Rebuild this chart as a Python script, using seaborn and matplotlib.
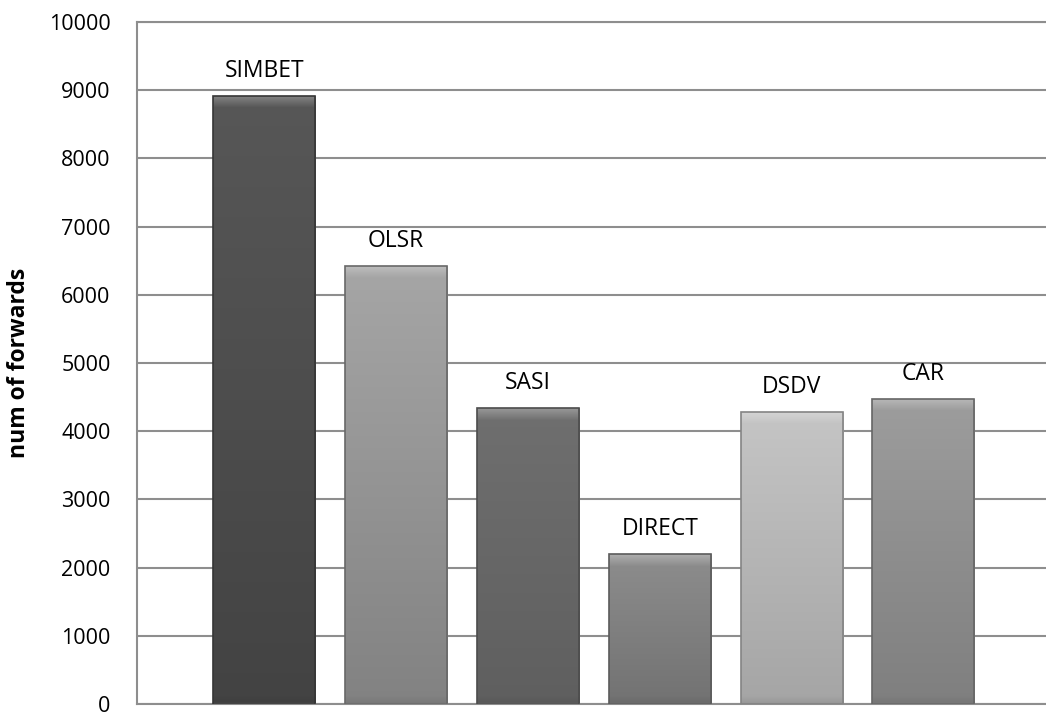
import numpy as np
import pandas as pd
import matplotlib
matplotlib.use("Agg")
import matplotlib.pyplot as plt
import seaborn as sns
from matplotlib.colors import to_rgb

# ---- data ----
protocols = ["SIMBET", "OLSR", "SASI", "DIRECT", "DSDV", "CAR"]
forwards = [8920, 6425, 4335, 2195, 4285, 4475]
y_ticks = [0, 1000, 2000, 3000, 4000, 5000, 6000, 7000, 8000, 9000, 10000]
y_label = "num of forwards"

# ---- style ----
top_colors = ["#575757", "#a6a6a6", "#6f6f6f", "#8d8d8d", "#c5c5c5", "#9d9d9d"]
bottom_colors = ["#434343", "#828282", "#5f5f5f", "#727272", "#a5a5a5", "#7f7f7f"]
grid_color = "#8e8e8e"

sns.set_theme(style="white")
plt.rcParams["font.family"] = ["Open Sans", "DejaVu Sans"]

W, H = 1046, 713
fig = plt.figure(figsize=(W / 100, H / 100), dpi=100)
ax = fig.add_axes([137 / W, 9 / H, 1 - 137 / W, (704 - 22) / H])

df = pd.DataFrame({"protocol": protocols, "forwards": forwards})
sns.barplot(data=df, x="protocol", y="forwards", hue="protocol",
            palette=top_colors, width=0.774, saturation=1, legend=False,
            ax=ax, zorder=2)

ax.set_xlim(-0.967, 5.93)
ax.set_ylim(0, 10000)

# gradient fill + bevel clipped to each seaborn bar
fig.canvas.draw()
for i, (patch, ctop, cbot) in enumerate(zip(ax.patches, top_colors, bottom_colors)):
    x0, y0 = patch.get_x(), patch.get_y()
    w, h = patch.get_width(), patch.get_height()
    p0 = ax.transData.transform((x0, y0))
    p1 = ax.transData.transform((x0 + w, y0 + h))
    npx = max(int(round(p1[1] - p0[1])), 2)
    t = np.linspace(0, 1, npx)[:, None]  # 0 bottom, 1 top
    top = np.array(to_rgb(ctop))
    bot = np.array(to_rgb(cbot))
    col = bot + (top - bot) * t
    dist_top = np.arange(npx)[::-1]
    light = np.clip(1 - dist_top / 12.0, 0, 1)[:, None]
    col = col + (1 - col) * 0.28 * light
    dist_bot = np.arange(npx)
    dark = np.clip(1 - dist_bot / 8.0, 0, 1)[:, None]
    col = col * (1 - 0.08 * dark)
    img = np.clip(col, 0, 1)[:, None, :]
    im = ax.imshow(img, extent=[x0, x0 + w, y0, y0 + h], origin="lower",
                   aspect="auto", zorder=2.5, interpolation="bilinear")
    im.set_clip_path(patch)
    patch.set_edgecolor(tuple(bot * 0.8))
    patch.set_linewidth(1.2)
    patch.set_facecolor("none")
    patch.set_zorder(3)
    ax.annotate(protocols[i], xy=(x0 + w / 2, y0 + h), xytext=(0, 13.7),
                textcoords="offset points", ha="center", va="baseline",
                fontsize=16.5, color="black")

ax.set_xlim(-0.967, 5.93)
ax.set_ylim(0, 10000)

ax.set_yticks(y_ticks)
ax.set_yticklabels([str(v) for v in y_ticks])
ax.set_xticks([])
ax.set_xlabel("")
ax.tick_params(axis="y", length=0, pad=19, labelsize=15.5, colors="black")
ax.set_ylabel(y_label, fontsize=16.5, fontweight="bold", color="black")
ax.yaxis.set_label_coords(-0.117, 0.5)

ax.set_axisbelow(True)
ax.yaxis.grid(True, color=grid_color, linewidth=1.5)
for side in ["left", "bottom", "top"]:
    ax.spines[side].set_visible(True)
    ax.spines[side].set_color(grid_color)
    ax.spines[side].set_linewidth(1.5)
ax.spines["right"].set_visible(False)

fig.savefig("out.png", dpi=100, facecolor="white")
